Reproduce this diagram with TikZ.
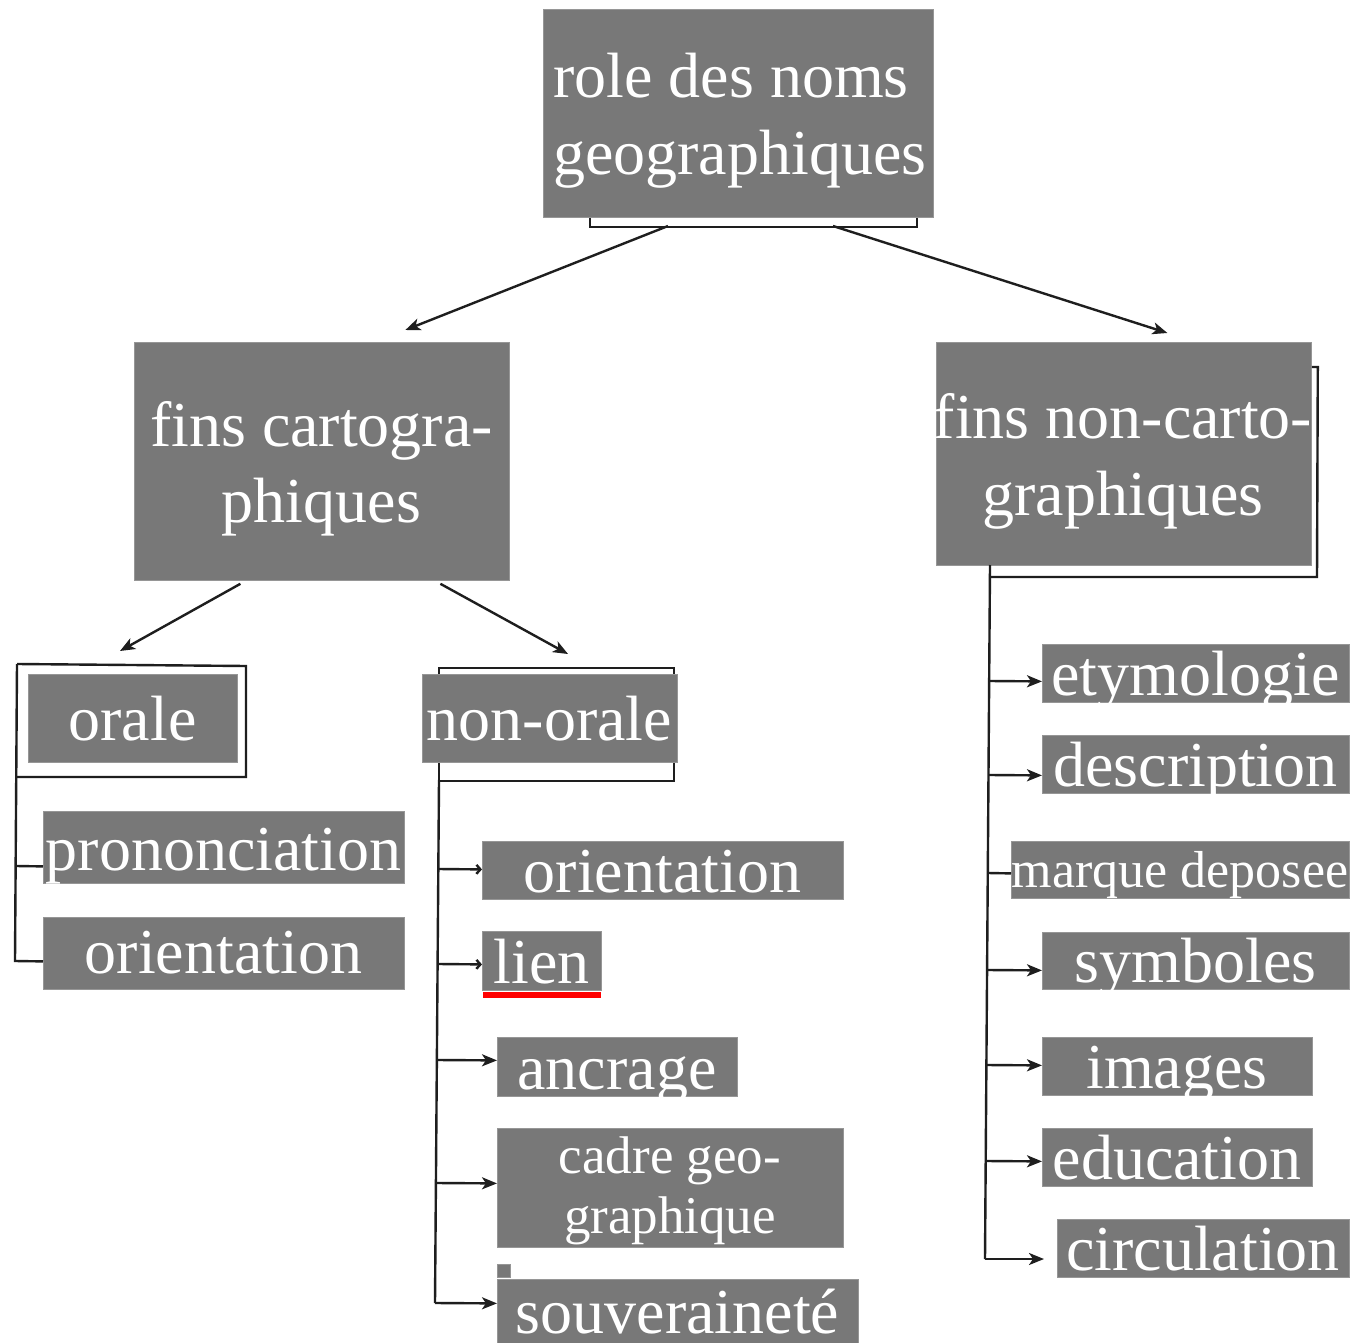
\documentclass[tikz,border=0pt]{standalone}
\usepackage{fontspec}
\setmainfont{Liberation Serif}
\usetikzlibrary{arrows.meta}
\definecolor{boxgray}{RGB}{120,120,120}
\definecolor{boxedge}{RGB}{150,150,150}
\definecolor{inkblack}{RGB}{30,30,30}
\newcommand\fsbig{\fontsize{64}{78}\selectfont}
\newcommand\fsmid{\fontsize{53}{60}\selectfont}
\newcommand\fssmall{\fontsize{52}{60}\selectfont}
\tikzset{
  bx/.style 2 args={fill=boxgray, draw=boxedge, line width=0.8pt, inner sep=0pt, anchor=north west,
                    minimum width=#1, minimum height=#2, rectangle},
  lbl/.style={anchor=base, text=white, inner sep=0pt, font=\fsbig},
  ln/.style={draw=inkblack, line width=2.4pt, line join=miter},
  arr/.style={ln, -{Stealth[length=15pt,width=12pt,inset=4pt]}},
  sarr/.style={ln, -{Straight Barb[length=4pt,width=9pt]}},
}
\begin{document}
\begin{tikzpicture}[x=1pt,y=-1pt]
\useasboundingbox[fill=white] (0,0) rectangle (1371,1343);

% boxes
\node[bx={390pt}{208pt}] (root) at (543,9) {};
\node[bx={375pt}{238pt}] (fc) at (134,342) {};
\node[bx={375pt}{223pt}] (fnc) at (936,342) {};
\node[bx={209pt}{88pt}] (orale) at (28,674) {};
\node[bx={361pt}{72pt}] (pron) at (43,811) {};
\node[bx={361pt}{72pt}] (orL) at (43,917) {};
\node[bx={255pt}{88pt}] (nono) at (422,674) {};
\node[bx={361pt}{58pt}] (orM) at (482,841) {};
\node[bx={119pt}{59pt}] (lien) at (482,931) {};
\node[bx={240pt}{59pt}] (ancr) at (497,1037) {};
\node[bx={346pt}{119pt}] (cadre) at (497,1128) {};
\node[bx={13pt}{13pt}] (sq) at (497,1264) {};
\node[bx={361pt}{75pt}] (souv) at (497,1279) {};
\node[bx={307pt}{58pt}] (etym) at (1042,644) {};
\node[bx={307pt}{58pt}] (desc) at (1042,735) {};
\node[bx={338pt}{57pt}] (marq) at (1011,841) {};
\node[bx={307pt}{57pt}] (symb) at (1042,932) {};
\node[bx={270pt}{58pt}] (imag) at (1042,1037) {};
\node[bx={270pt}{58pt}] (educ) at (1042,1128) {};
\node[bx={292pt}{58pt}] (circ) at (1057,1219) {};

% red underline under "lien"
\fill[red] (483,992) rectangle (601,998);

% texts
\node[lbl, anchor=base west] (t1a) at (553,98) {role des noms};
\node[lbl, anchor=base west] (t1b) at (553,175) {geographiques};
\node[lbl] (t2a) at (321.5,446) {fins cartogra-};
\node[lbl] (t2b) at (321.5,522) {phiques};
\node[lbl] (t3a) at (1123,438) {fins non-carto-};
\node[lbl] (t3b) at (1123,515) {graphiques};
\node[lbl] (t4) at (132.5,740) {orale};
\node[lbl] (t5) at (223.5,870) {prononciation};
\node[lbl] (t6) at (223.5,973) {orientation};
\node[lbl] (t7) at (549.5,740) {non-orale};
\node[lbl] (t8) at (662.5,892) {orientation};
\node[lbl] (t9) at (541.5,983) {lien};
\node[lbl] (t10) at (617,1089) {ancrage};
\node[lbl, font=\fsmid] (t11a) at (670,1173) {cadre geo-};
\node[lbl, font=\fsmid] (t11b) at (670,1233) {graphique};
\node[lbl] (t12) at (677.5,1333) {souveraineté};
\node[lbl] (t13) at (1195.5,695) {etymologie};
\node[lbl] (t14) at (1195.5,786) {description};
\node[lbl, font=\fssmall] (t15) at (1180,887) {marque deposee};
\node[lbl] (t16) at (1195.5,982) {symboles};
\node[lbl] (t17) at (1177,1088) {images};
\node[lbl] (t18) at (1177,1179) {education};
\node[lbl] (t19) at (1203,1270) {circulation};

% root bracket and arrows
\draw[ln] ([xshift=47pt]root.south west) -- ++(0,9) -| ([xshift=-17pt]root.south east);
\coordinate (rL) at (668,226);
\coordinate (rR) at (833,226);
\draw[arr] (rL) -- ([shift={(83.5pt,12pt)}]fc.north);
\draw[arr] (rR) -- ([shift={(43.5pt,9pt)}]fnc.north);

% fins cartographiques arrows
\coordinate (oTip) at (120,651);
\coordinate (nTip) at (568,654);
\draw[arr] ([xshift=-81.5pt,yshift=-3pt]fc.south) -- (oTip);
\draw[arr] ([xshift=118.5pt,yshift=-3pt]fc.south) -- (nTip);

% orale frame and branches
\draw[ln] (17,664) -- (246,666) -- (246,777) -- (17,777);
\draw[ln] (17,664) -- (15,961) -- ([yshift=-8pt]orL.west);
\draw[ln] (16,866) -- ([yshift=-19pt]pron.west);

% non-orale bracket and branches
\draw[ln] ([xshift=17pt]nono.north west) -- ++(0,-6) -| ([xshift=-4pt]nono.north east);
\draw[ln] ([xshift=-4pt]nono.south east) -- ++(0,18) -| ([xshift=17pt]nono.south west);
\draw[ln] (439,780) -- (435,1303);
\draw[sarr] (438,869) -- ([yshift=1pt]orM.west);
\draw[sarr] (438,964) -- ([yshift=-3.5pt]lien.west);
\draw[arr] (437,1060) -- ([yshift=6.5pt]ancr.west);
\draw[arr] (436,1183) -- ([yshift=4.5pt]cadre.west);
\draw[arr] (435,1303) -- ([yshift=13.5pt]souv.west);

% fins non-cartographiques bracket and branches
\draw[ln] ([yshift=-25pt]fnc.north east) -- ++(6,0) -- (1317,577) -- (990,577);
\draw[ln] (990,565) -- (985,1259);
\draw[arr] (989,681) -- ([yshift=-8pt]etym.west);
\draw[arr] (989,775) -- ([yshift=-11pt]desc.west);
\draw[ln] (988,873) -- ([yshift=-3.5pt]marq.west);
\draw[arr] (987,970) -- ([yshift=-9.5pt]symb.west);
\draw[arr] (986,1065) -- ([yshift=1pt]imag.west);
\draw[arr] (986,1161) -- ([yshift=-4pt]educ.west);
\coordinate (cTip) at (1044,1259);
\draw[arr] (985,1259) -- (cTip);
\end{tikzpicture}
\end{document}
